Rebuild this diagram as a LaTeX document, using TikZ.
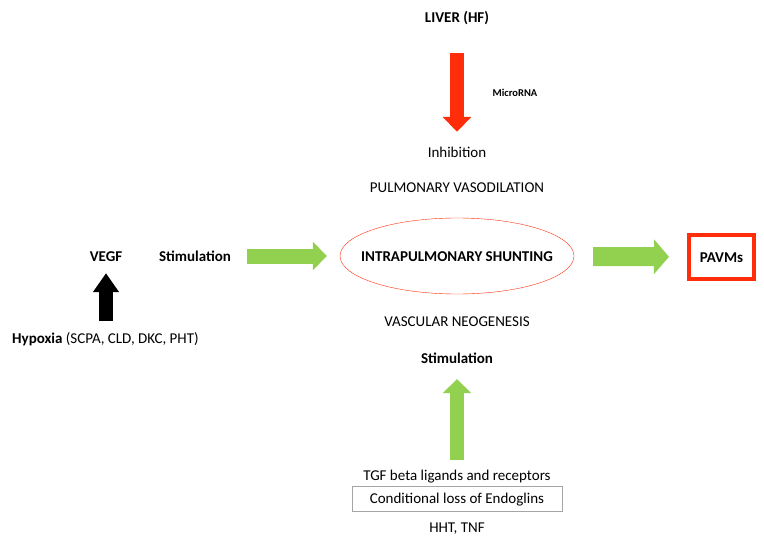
\documentclass[tikz,border=0pt]{standalone}
\usepackage{fontspec}
\setmainfont{Carlito}
\usetikzlibrary{arrows.meta,shapes.geometric}
\definecolor{fatgreen}{RGB}{146,208,80}
\definecolor{fatred}{RGB}{255,45,10}
\definecolor{boxgray}{RGB}{165,165,165}

\begin{document}
\begin{tikzpicture}[x=1pt,y=-1pt,
  lbl/.style={font=\fontsize{15}{17}\selectfont, inner sep=1pt, text height=10pt, text depth=0pt},
  bold/.style={lbl, font=\fontsize{15}{17}\selectfont\bfseries},
  fatarrow/.style args={#1/#2/#3}{line width=#1, -{Triangle[width=#2,length=#3]}}]
\useasboundingbox (0,0) rectangle (764,549);

% top: liver and its inhibition
\node[bold] (liver) at (457,17) {LIVER (HF)};
\node[font=\fontsize{10.5}{12}\selectfont\bfseries] (micro) at (515,93) {MicroRNA};
\node[lbl] (inhib) at (457,152) {Inhibition};
\node[lbl] (vasodil) at (457,187) {PULMONARY VASODILATION};

% centre
\node[ellipse, draw=fatred, minimum width=234pt, minimum height=76pt] (shunt) at (457,256) {};
\node[bold] (shunttxt) at (shunt.center) {INTRAPULMONARY SHUNTING};
\node[lbl] (neogen) at (457,321) {VASCULAR NEOGENESIS};

% left: hypoxia and VEGF
\node[bold] (vegf) at (106,256) {VEGF};
\node[bold] (stiml) at (195,256) {Stimulation};
\node[lbl, anchor=west] (hypox) at (11,338) {\textbf{Hypoxia} (SCPA, CLD, DKC, PHT)};

% right: result
\node[bold, draw=fatred, line width=4pt, minimum width=65pt, minimum height=44pt] (pavm) at (721.5,257) {PAVMs};

% bottom
\node[bold] (stimb) at (457,358) {Stimulation};
\node[lbl] (tgf) at (457,475) {TGF beta ligands and receptors};
\node[lbl, draw=boxgray, minimum width=210pt, minimum height=25pt] (endo) at (457,498.5) {Conditional loss of Endoglins};
\node[lbl] (hht) at (457,527) {HHT, TNF};

% block arrows
\draw[fatred, fatarrow=14pt/28pt/15pt, shorten <=30pt, shorten >=14pt] (liver) -- (inhib);
\draw[fatgreen, fatarrow=15pt/28pt/14pt, shorten <=15pt, shorten >=13pt] (stiml) -- (shunt);
\draw[fatgreen, fatarrow=19pt/34pt/15pt, shorten <=19pt, shorten >=18pt] (shunt) -- (pavm);
\draw[fatgreen, fatarrow=14pt/28pt/14pt, shorten <=9pt, shorten >=15pt] (tgf) -- (stimb);
\draw[black, fatarrow=14pt/25pt/19pt, shorten <=11pt, shorten >=11pt] (vegf |- hypox.north) -- (vegf);
\end{tikzpicture}
\end{document}
